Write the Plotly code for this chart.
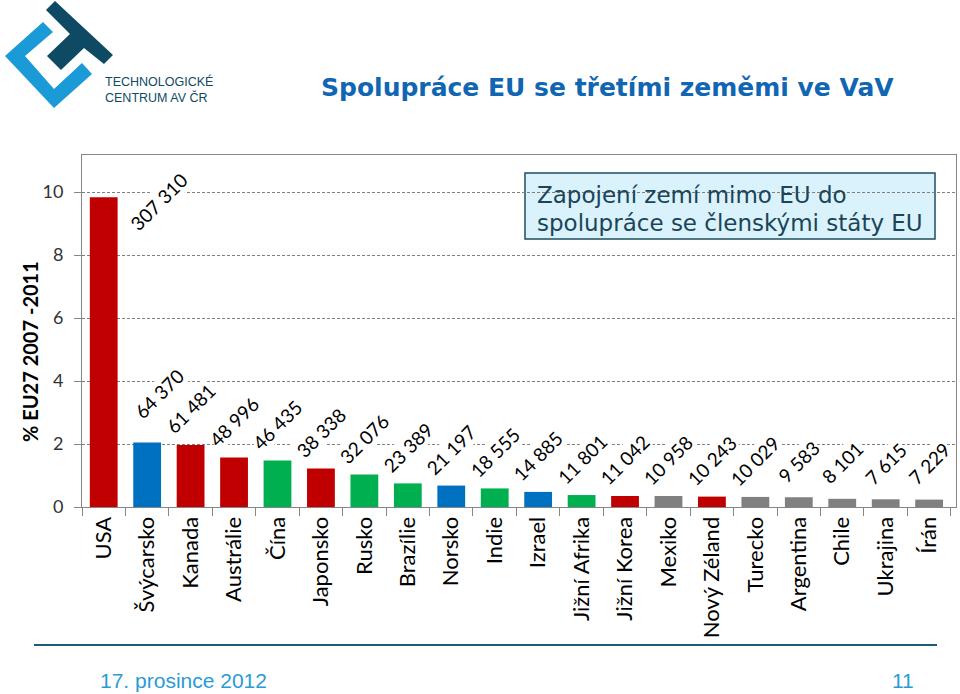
import plotly.graph_objects as go

# ---------------- data ----------------
countries = ["USA", "Švýcarsko", "Kanada", "Austrálie", "Čína", "Japonsko", "Rusko",
             "Brazílie", "Norsko", "Indie", "Izrael", "Jižní Afrika", "Jižní Korea",
             "Mexiko", "Nový Zéland", "Turecko", "Argentina", "Chile", "Ukrajina", "Írán"]
share_pct = [9.83, 2.05, 1.97, 1.57, 1.48, 1.22, 1.03, 0.75, 0.68, 0.59,
             0.48, 0.38, 0.35, 0.35, 0.33, 0.32, 0.31, 0.26, 0.245, 0.235]
collaborations = [307310, 64370, 61481, 48996, 46435, 38338, 32076, 23389, 21197, 18555,
                  14885, 11801, 11042, 10958, 10243, 10029, 9583, 8101, 7615, 7229]
y_ticks = [0, 2, 4, 6, 8, 10]

RED, BLUE, GREEN, GRAY = "#C00000", "#0070C0", "#00B050", "#808080"
bar_colors = [RED, BLUE, RED, RED, GREEN, RED, GREEN, GREEN, BLUE, GREEN,
              BLUE, GREEN, RED, GRAY, RED, GRAY, GRAY, GRAY, GRAY, GRAY]

# ---------------- geometry helpers (pixel -> paper) ----------------
L, R, T, B = 82, 4, 155, 187
W, H = 960, 694
PW, PH = W - L - R, H - T - B


def px(x):
    return (x - L) / PW


def py(y):
    return (H - B - y) / PH


def path(points):
    return "M " + " L ".join(f"{px(x):.5f},{py(y):.5f}" for x, y in points) + " Z"


fig = go.Figure(go.Bar(
    x=countries, y=share_pct, marker_color=bar_colors, marker_line_width=0,
    hoverinfo="x+y",
))

annotations = []
# value labels above bars
label_font = dict(family="Lato, Calibri, Carlito, sans-serif", size=19, color="black")
special = {0: (55, -4), 1: (12, 49)}
for i, (c, v, n) in enumerate(zip(countries, share_pct, collaborations)):
    xs, ys = special.get(i, (0, 36))
    annotations.append(dict(
        x=c, y=v, xref="x", yref="y", text=f"{n:,}".replace(",", " "),
        showarrow=False, textangle=-45, xanchor="center", yanchor="middle",
        xshift=xs, yshift=ys, font=label_font, bgcolor="white", borderpad=0,
    ))

# y-axis title
annotations.append(dict(
    x=px(30), y=py(352), xref="paper", yref="paper", text="<b>% EU27 2007 -2011</b>",
    showarrow=False, textangle=-90, xanchor="center", yanchor="middle",
    font=dict(family="Lato, Calibri, sans-serif", size=20, color="black"),
))

# info box text
box_font = dict(family="DejaVu Sans, Verdana, sans-serif", size=23, color="#1B4457")
annotations.append(dict(x=px(535), y=py(195), xref="paper", yref="paper",
                        text="Zapojení zemí mimo EU do", showarrow=False,
                        xanchor="left", yanchor="middle", font=box_font))
annotations.append(dict(x=px(535), y=py(223), xref="paper", yref="paper",
                        text="spolupráce se členskými státy EU", showarrow=False,
                        xanchor="left", yanchor="middle", font=box_font))

# title
annotations.append(dict(
    x=px(607.5), y=py(87), xref="paper", yref="paper",
    text="<b>Spolupráce EU se třetími zeměmi ve VaV</b>", showarrow=False,
    xanchor="center", yanchor="middle",
    font=dict(family="DejaVu Sans, Verdana, sans-serif", size=25, color="#1166B3"),
))

# logo text
logo_font = dict(family="Liberation Sans Narrow, Arial Narrow, Liberation Sans, sans-serif",
                 size=12.5, color="#0E4A64")
annotations.append(dict(x=px(103), y=py(81.5), xref="paper", yref="paper",
                        text="TECHNOLOGICKÉ", showarrow=False, xanchor="left",
                        yanchor="middle", font=logo_font))
annotations.append(dict(x=px(103), y=py(97.5), xref="paper", yref="paper",
                        text="CENTRUM AV ČR", showarrow=False, xanchor="left",
                        yanchor="middle", font=logo_font))

# footer
foot_font = dict(family="Liberation Sans Narrow, Arial Narrow, Liberation Sans, sans-serif",
                 size=21, color="#2A9BD5")
annotations.append(dict(x=px(98), y=py(680), xref="paper", yref="paper",
                        text="17. prosince 2012", showarrow=False, xanchor="left",
                        yanchor="middle", font=foot_font))
annotations.append(dict(x=px(916), y=py(680), xref="paper", yref="paper",
                        text="11", showarrow=False, xanchor="right",
                        yanchor="middle", font=foot_font))

shapes = [
    # info box (below gridlines)
    dict(type="rect", xref="paper", yref="paper", x0=px(525), x1=px(935),
         y0=py(239), y1=py(173), fillcolor="#DAF2FC",
         line=dict(color="#1F4E5F", width=1.5), layer="below"),
    # footer line
    dict(type="line", xref="paper", yref="paper", x0=px(34), x1=px(937),
         y0=py(645), y1=py(645), line=dict(color="#1D5B79", width=2)),
    # logo: light blue bracket
    dict(type="path", xref="paper", yref="paper",
         path=path([(43, 22), (5, 56), (54, 108), (92, 74), (82, 63), (54, 89), (25, 56), (53, 32)]),
         fillcolor="#1A9AD7", line=dict(width=0)),
    # logo: dark T
    dict(type="path", xref="paper", yref="paper",
         path=path([(55, 1), (113, 55), (104, 64), (84, 48), (61, 70), (47, 56), (70, 34), (46, 10)]),
         fillcolor="#0E4A64", line=dict(width=0)),
]

axis_gray = "#868686"
fig.update_layout(
    width=W, height=H,
    margin=dict(l=L, r=R, t=T, b=B, pad=0),
    paper_bgcolor="white", plot_bgcolor="rgba(0,0,0,0)",
    bargap=0.36, showlegend=False,
    annotations=annotations, shapes=shapes,
    xaxis=dict(
        showline=True, linecolor=axis_gray, linewidth=1, mirror=True,
        ticks="outside", ticklen=8, tickcolor=axis_gray, tickson="boundaries",
        tickangle=-90, showgrid=False,
        tickfont=dict(family="Lato, Calibri, sans-serif", size=22, color="black"),
    ),
    yaxis=dict(
        range=[0, PH / 31.5], tickvals=y_ticks, showline=True, linecolor=axis_gray,
        linewidth=1, mirror=True, ticks="outside", ticklen=7, tickcolor=axis_gray,
        ticklabelstandoff=7,
        showgrid=True, gridcolor="#7F7F7F", gridwidth=1, griddash="3px,2px",
        zeroline=False,
        tickfont=dict(family="Lato, Calibri, sans-serif", size=18, color="#333333"),
    ),
)

fig.write_html(
    "out.html",
    config={"displayModeBar": False},
    post_script="document.documentElement.style.margin='0';"
                "document.body.style.margin='0';document.body.style.padding='0';"
                "document.body.style.overflow='hidden';",
)
